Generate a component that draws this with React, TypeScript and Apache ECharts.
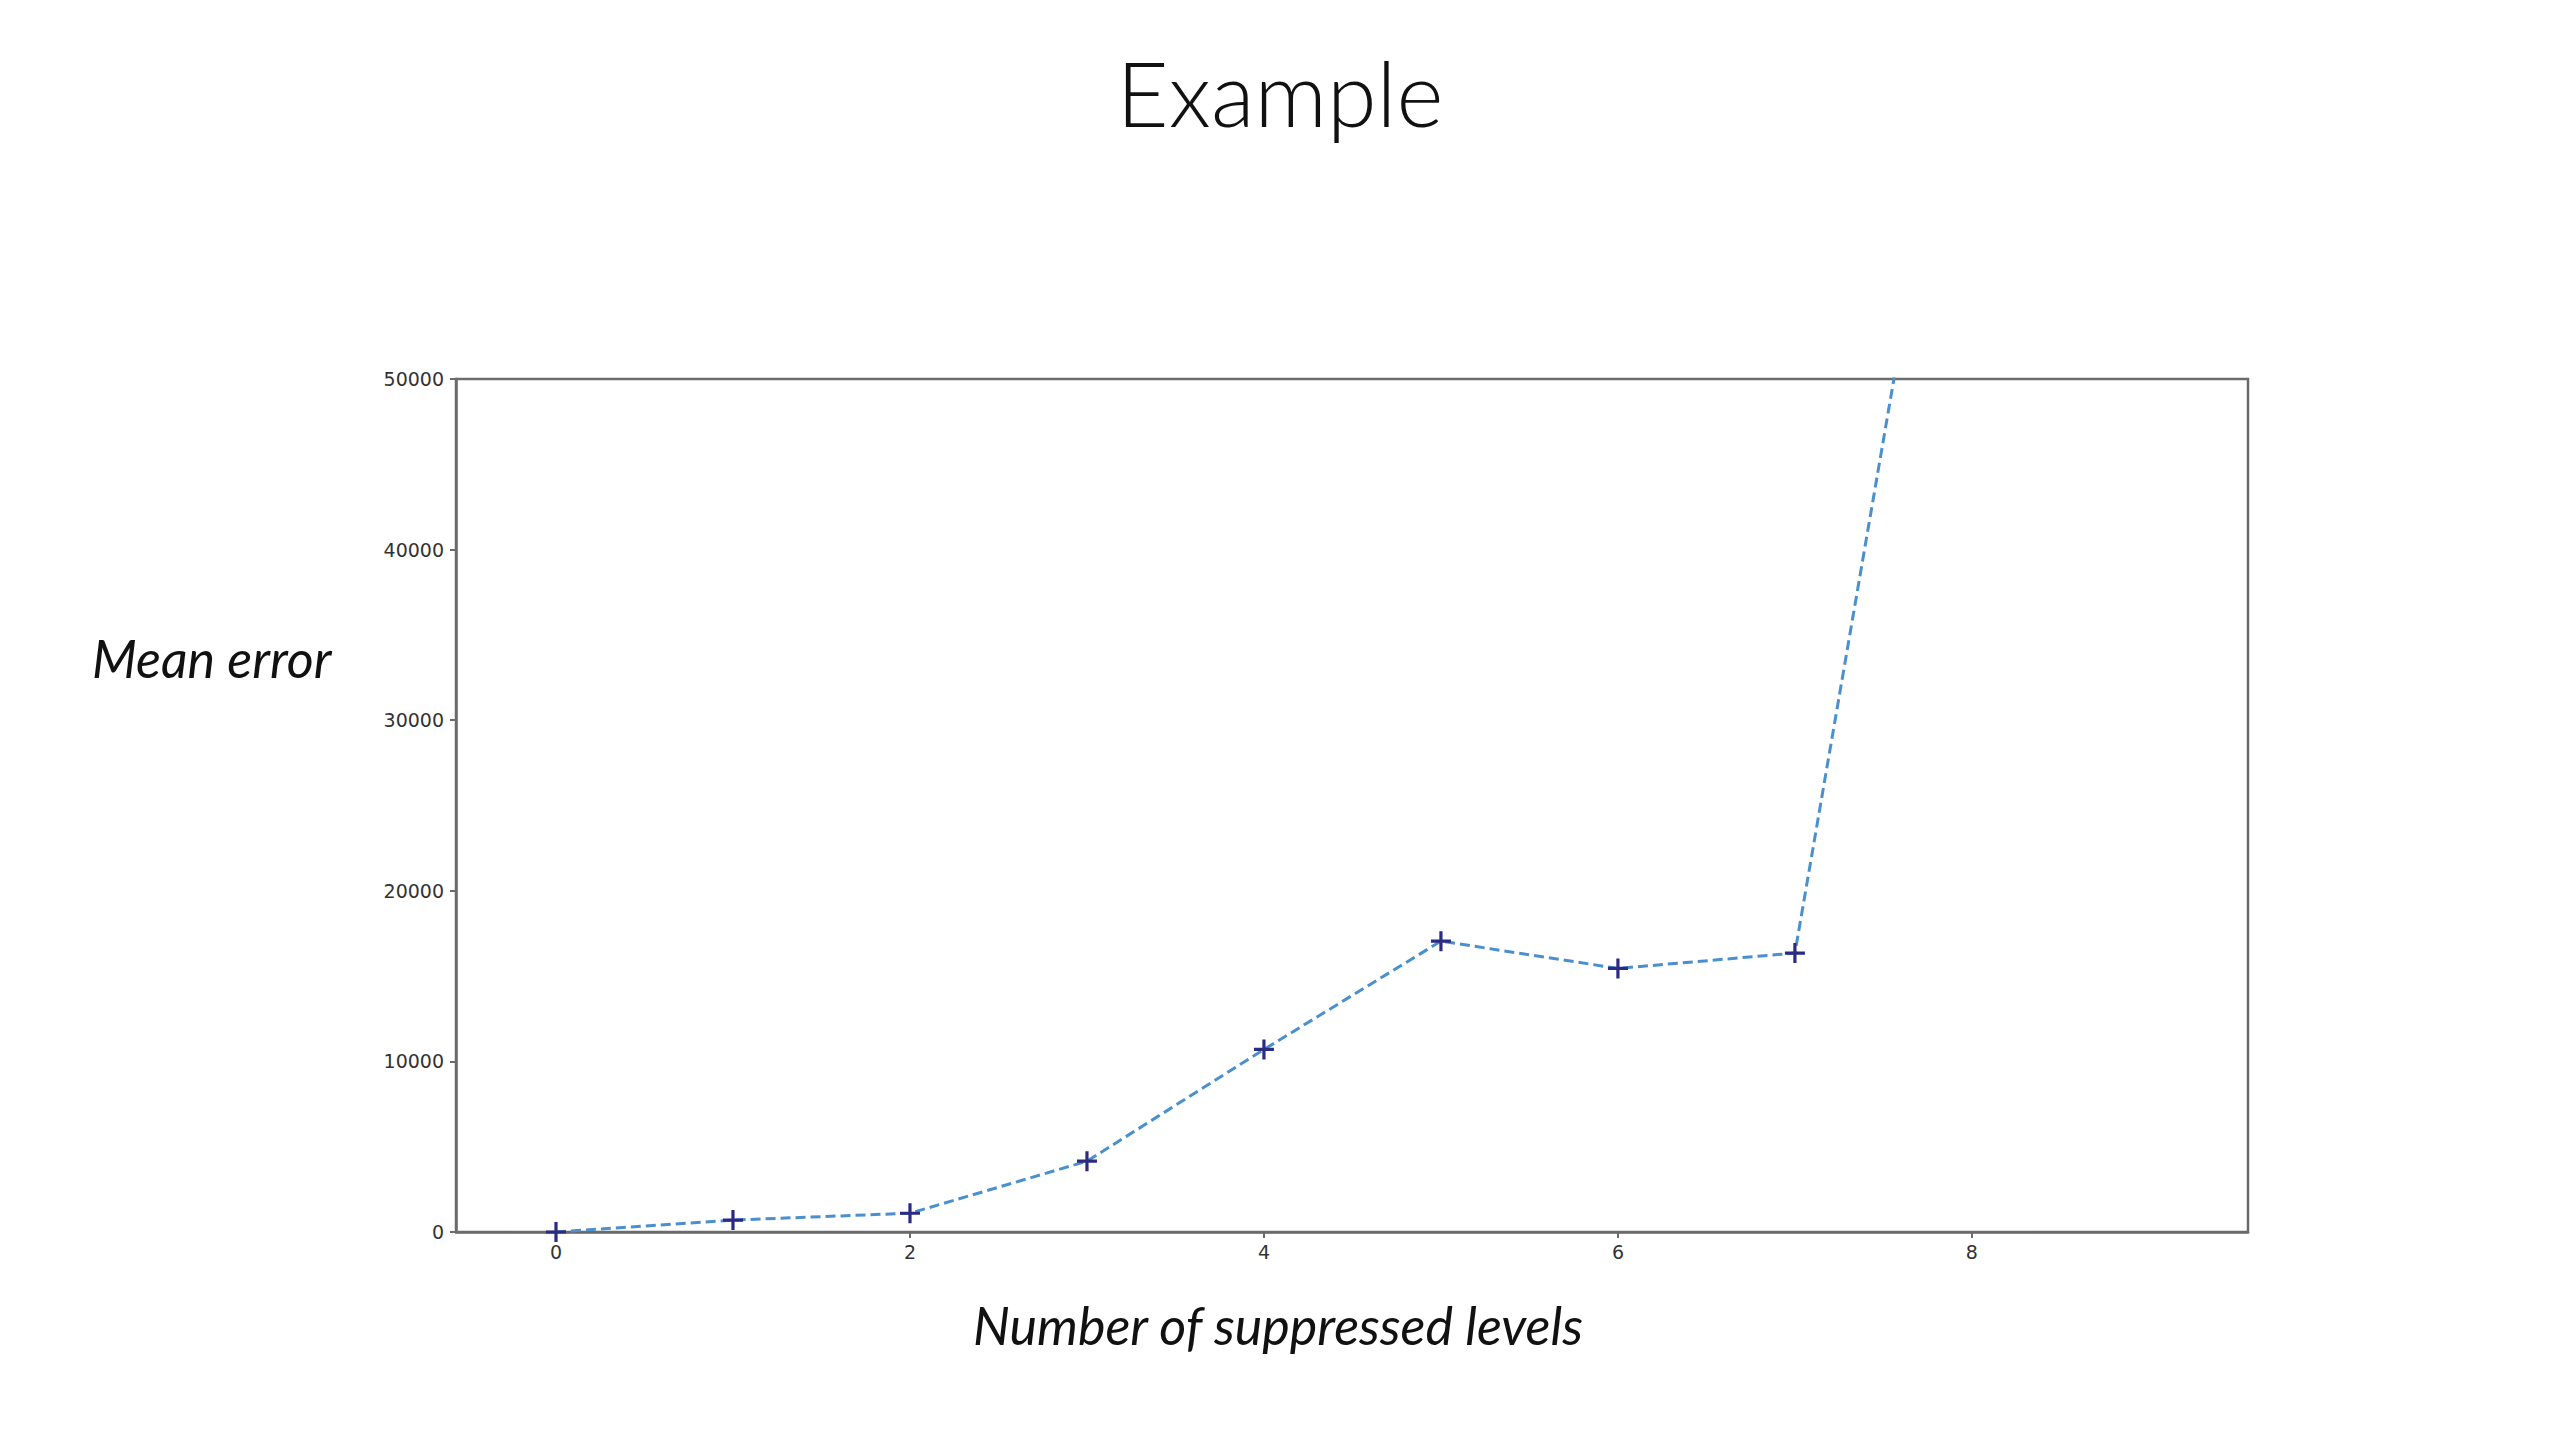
import React, { useEffect, useRef } from "react";
import * as echarts from "echarts";

const levels = [0, 1, 2, 3, 4, 5, 6, 7, 8];
const meanError = [0, 700, 1100, 4150, 10700, 17050, 15450, 16350, 76500];
const xTickValues = [0, 2, 4, 6, 8];
const titleText = "Example";
const yLabelText = "Mean error";
const xLabelText = "Number of suppressed levels";

const PLUS =
  "path://M-1.6,-10H1.6V-1.6H10V1.6H1.6V10H-1.6V1.6H-10V-1.6H-1.6Z";

export default function App() {
  const ref = useRef<HTMLDivElement>(null);
  useEffect(() => {
    if (!ref.current) return;
    const chart = echarts.init(ref.current, null, { renderer: "svg" });
    const axisColor = "#6b6b6b";
    const tickLabel = {
      color: "#333",
      fontFamily: "DejaVu Sans",
      fontSize: 19,
    };
    chart.setOption({
      animation: false,
      backgroundColor: "#ffffff",
      title: {
        text: titleText,
        left: "center",
        top: 42,
        textStyle: {
          fontFamily: "Lato",
          fontWeight: 300,
          fontSize: 90,
          color: "#111",
        },
      },
      grid: {
        left: 456,
        right: 312,
        top: 379,
        bottom: 208,
        containLabel: false,
        outerBoundsMode: "none",
        show: true,
        borderColor: axisColor,
        borderWidth: 2.5,
      },
      xAxis: {
        type: "value",
        min: -0.565,
        max: 9.56,
        splitLine: { show: false },
        axisLine: { show: true, onZero: false, lineStyle: { color: axisColor, width: 2.5 } },
        axisTick: {
          show: true,
          length: 6,
          customValues: xTickValues,
          lineStyle: { color: axisColor, width: 2 },
        },
        axisLabel: {
          ...tickLabel,
          margin: 10,
          customValues: xTickValues,
          formatter: (v: number) => String(v),
        },
      },
      yAxis: {
        type: "value",
        min: 0,
        max: 50000,
        interval: 10000,
        splitLine: { show: false },
        axisLine: { show: true, onZero: false, lineStyle: { color: axisColor, width: 2.5 } },
        axisTick: { show: true, length: 6, lineStyle: { color: axisColor, width: 2 } },
        axisLabel: { ...tickLabel, margin: 12, formatter: (v: number) => String(v) },
      },
      graphic: [
        {
          type: "text",
          left: 92,
          top: 632,
          style: {
            text: yLabelText,
            fontFamily: "Lato",
            fontStyle: "italic",
            fontSize: 52,
            fill: "#111",
          },
        },
        {
          type: "text",
          left: 973,
          top: 1299,
          style: {
            text: xLabelText,
            fontFamily: "Lato",
            fontStyle: "italic",
            fontSize: 52,
            fill: "#111",
          },
        },
      ],
      series: [
        {
          type: "line",
          data: levels.map((x, i) => [x, meanError[i]]),
          clip: true,
          symbol: PLUS,
          symbolSize: 20,
          showSymbol: true,
          itemStyle: { color: "#2b2b86" },
          lineStyle: { color: "#4a90cf", width: 3, type: [10, 5] },
          z: 3,
        },
      ],
    });
    return () => chart.dispose();
  }, []);
  return (
    <div
      ref={ref}
      style={{ position: "fixed", left: 0, top: 0, width: 2560, height: 1440 }}
    />
  );
}
